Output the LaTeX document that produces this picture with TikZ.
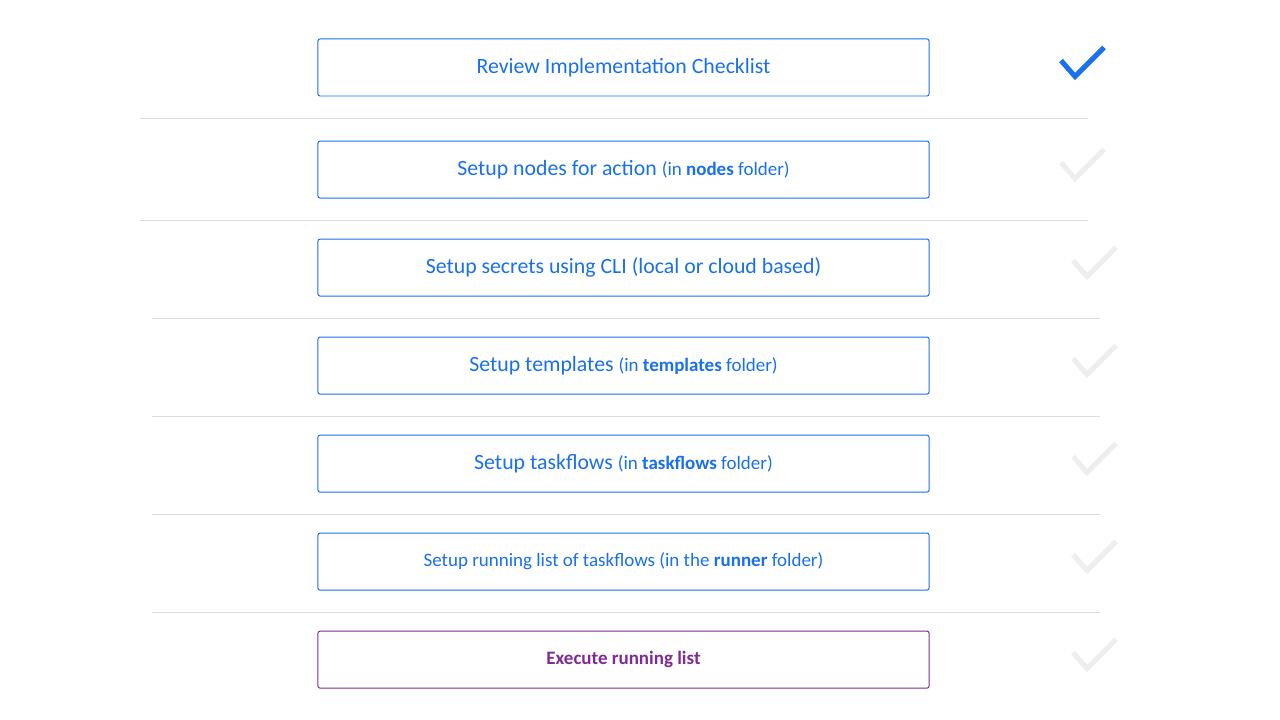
\documentclass[tikz,border=0pt]{standalone}
\usepackage{fontspec}
\setmainfont{Carlito}
\usetikzlibrary{positioning}
\definecolor{stepblue}{RGB}{24,112,236}
\definecolor{steppurple}{RGB}{128,42,150}
\definecolor{sepgray}{RGB}{220,220,220}
\definecolor{tickgray}{RGB}{238,238,238}
\newcommand{\bigtxt}{\fontsize{15.5}{18}\selectfont}
\newcommand{\smalltxt}{\fontsize{13.5}{16}\selectfont}
\tikzset
{
    stepbox/.style = {rectangle, draw=stepblue, text=stepblue, line width=0.7pt, rounded corners=1.5pt, align=center, minimum width=15.275cm, minimum height=1.425cm, inner sep=0pt, outer sep=0pt},
    lastbox/.style = {stepbox, draw=steppurple, text=steppurple},
    sepline/.style = {draw=sepgray, line width=0.7pt},
    donetick/.style = {draw=stepblue, line width=3.6pt, line join=miter},
    opentick/.style = {draw=tickgray, line width=3.6pt, line join=miter}
}

\begin{document}
\begin{tikzpicture}[x=0.025cm, y=-0.025cm]
\useasboundingbox (0,0) rectangle (1280,720);
\node[stepbox] (review) at (623.5,67.5) {\bigtxt Review Implementation Checklist};
\node[stepbox, below=1.125cm of review] (nodes) {\bigtxt Setup nodes for action {\smalltxt(in \textbf{nodes} folder)}};
\node[stepbox, below=1.025cm of nodes] (secrets) {\bigtxt Setup secrets using CLI (local or cloud based)};
\node[stepbox, below=1.025cm of secrets] (templates) {\bigtxt Setup templates {\smalltxt(in \textbf{templates} folder)}};
\node[stepbox, below=1.025cm of templates] (taskflows) {\bigtxt Setup taskflows {\smalltxt(in \textbf{taskflows} folder)}};
\node[stepbox, below=1.025cm of taskflows] (runner) {\smalltxt Setup running list of taskflows (in the \textbf{runner} folder)};
\node[lastbox, below=1.025cm of runner] (execute) {\smalltxt\bfseries Execute running list};
% separators
\draw[sepline] (140,118.5) -- (1088,118.5);
\draw[sepline] (140,220.5) -- (1088,220.5);
\draw[sepline] (152,318.5) -- (1100,318.5);
\draw[sepline] (152,416.5) -- (1100,416.5);
\draw[sepline] (152,514.5) -- (1100,514.5);
\draw[sepline] (152,612.5) -- (1100,612.5);
% ticks
\draw[donetick] (1061,60.5) -- (1075,76.5) -- (1104,47.5);
\draw[opentick] (1061,162.5) -- (1075,178.5) -- (1104,149.5);
\foreach \y in {267.5,365.5,463.5,561.5,659.5}
  \draw[opentick] (1073,\y-7) -- (1087,\y+9) -- (1116,\y-20);
\end{tikzpicture}
\end{document}
